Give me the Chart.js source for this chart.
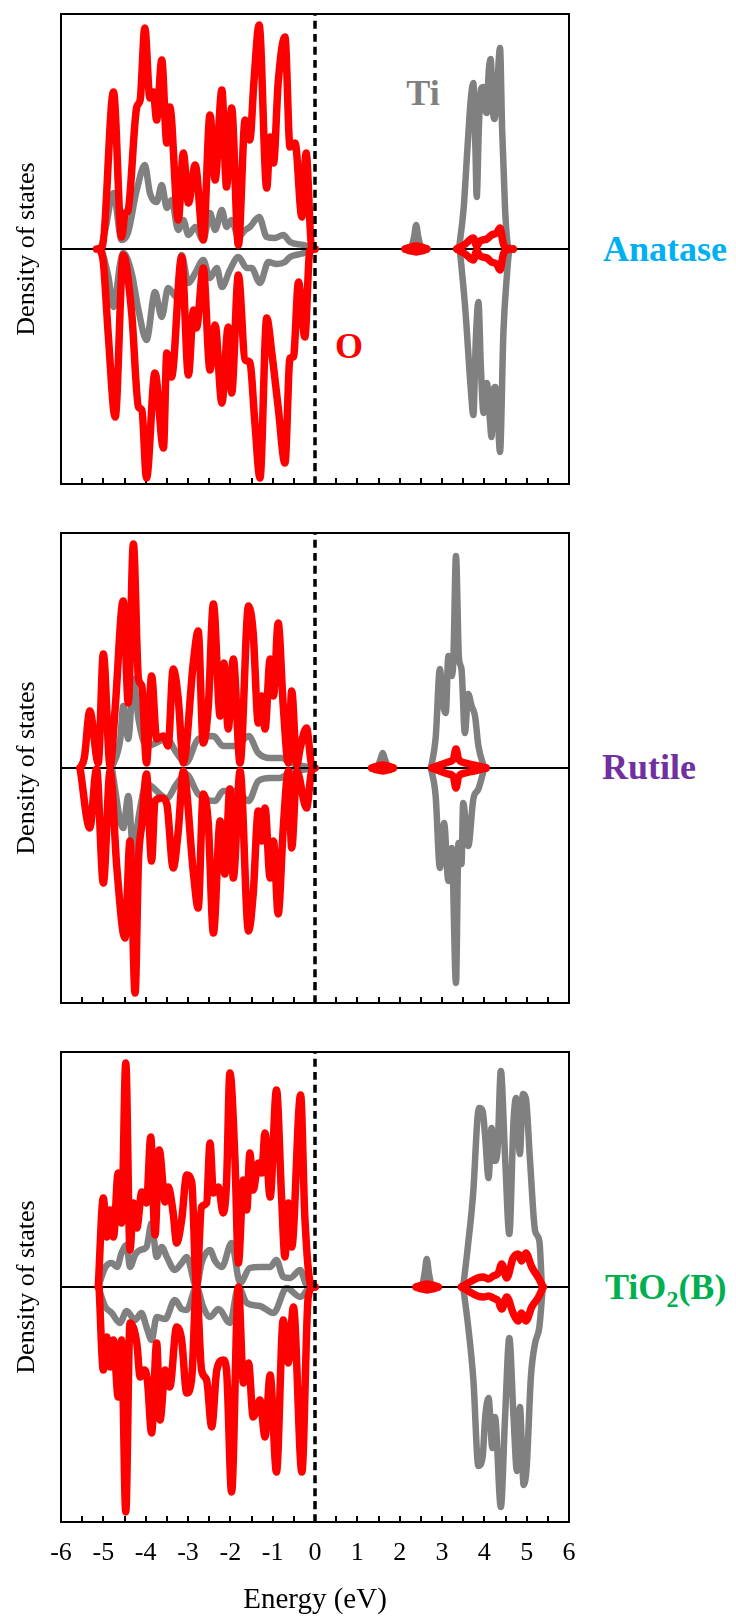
<!DOCTYPE html>
<html>
<head>
<meta charset="utf-8">
<script src="https://cdn.jsdelivr.net/npm/chart.js@4.4.0/dist/chart.umd.min.js"></script>
<style>
  body { margin: 0; background: #fff; width: 736px; height: 1620px; position: relative; overflow: hidden; font-family: "Liberation Serif", serif; }
  canvas { position: absolute; left: 0; }
  .lbl { position: absolute; font-weight: bold; font-size: 36px; line-height: 1; white-space: nowrap; }
  .sub { font-size: 24px; position: relative; top: 8px; }
</style>
</head>
<body>
<div class="lbl" style="left:423px;top:93px;color:#808080;transform:translate(-50%,-50%)">Ti</div>
<div class="lbl" style="left:349px;top:346px;color:#ff0000;transform:translate(-50%,-50%)">O</div>
<div class="lbl" style="left:603px;top:249px;color:#00b0f0;transform:translateY(-50%)">Anatase</div>
<div class="lbl" style="left:602px;top:767px;color:#7030a0;transform:translateY(-50%)">Rutile</div>
<div class="lbl" style="left:605px;top:1287px;color:#00b050;transform:translateY(-50%)">TiO<span class="sub">2</span>(B)</div>

<script>
// energy range of the x axis (eV), DOS axis is symmetric (arb. units)
const energyRange = [-6, 6];
const dosMax = 11.75;

// ---- Anatase ----
const anataseO_up = [[-5.16,0],[-5.02,0.15],[-4.76,7.85],[-4.57,0.6],[-4.48,1.8],[-4.42,1.9],[-4.21,7.1],[-4.13,7.45],[-4.02,11.05],[-3.90,7.55],[-3.82,7.85],[-3.74,6.45],[-3.62,9.45],[-3.50,5.3],[-3.43,7.1],[-3.23,1.45],[-3.11,4.8],[-2.99,2.3],[-2.83,4.2],[-2.64,0.45],[-2.48,6.7],[-2.36,3.45],[-2.20,7.95],[-2.09,3.1],[-1.97,7.05],[-1.81,0.2],[-1.65,6.45],[-1.54,5.45],[-1.44,8.45],[-1.32,11.2],[-1.14,3.05],[-1.06,5.6],[-0.98,4.3],[-0.87,8.3],[-0.71,10.6],[-0.59,5.1],[-0.47,5.3],[-0.31,1.6],[-0.21,4.8],[-0.08,0.1],[0,0]];
const anataseO_dn = [[-5.08,0],[-5.0,-0.65],[-4.88,-4.4],[-4.72,-8.4],[-4.53,-0.3],[-4.33,-3.2],[-4.17,-7.9],[-4.09,-8.05],[-3.98,-11.45],[-3.78,-6.2],[-3.58,-9.95],[-3.50,-5.2],[-3.39,-6.4],[-3.15,-0.4],[-2.99,-6.3],[-2.87,-3.05],[-2.80,-3.95],[-2.64,-0.95],[-2.48,-6.05],[-2.36,-3.8],[-2.20,-7.7],[-2.05,-3.9],[-1.97,-7.2],[-1.81,-1.3],[-1.65,-5.55],[-1.54,-5.65],[-1.42,-8.7],[-1.30,-11.45],[-1.14,-3.45],[-1.02,-5.2],[-0.87,-7.9],[-0.71,-10.7],[-0.59,-5.45],[-0.51,-5.4],[-0.39,-1.65],[-0.24,-4.4],[-0.12,-0.05],[0,0]];
const anataseTi_up = [[-5.06,0],[-4.95,1.0],[-4.76,2.8],[-4.57,0.45],[-4.42,0.8],[-4.21,2.95],[-4.02,4.2],[-3.90,2.8],[-3.74,2.35],[-3.62,3.2],[-3.50,2.05],[-3.39,2.45],[-3.23,0.95],[-3.11,1.45],[-2.99,0.7],[-2.83,1.1],[-2.64,0.45],[-2.48,1.8],[-2.36,0.95],[-2.20,1.95],[-2.09,1.1],[-1.97,1.45],[-1.81,0.6],[-1.65,0.95],[-1.54,1.1],[-1.32,1.6],[-1.14,0.6],[-0.95,0.55],[-0.75,0.7],[-0.59,0.35],[-0.28,0.2],[0,0]];
const anataseTi_dn = [[-5.04,0],[-4.88,-1.4],[-4.76,-2.9],[-4.6,-0.7],[-4.53,-0.2],[-4.33,-1.2],[-4.17,-3.05],[-3.98,-4.55],[-3.78,-2.15],[-3.62,-3.4],[-3.47,-1.95],[-3.27,-2.4],[-3.15,-0.3],[-2.99,-1.7],[-2.83,-1.2],[-2.64,-0.55],[-2.48,-1.45],[-2.32,-0.95],[-2.20,-1.9],[-2.01,-1.05],[-1.81,-0.4],[-1.61,-0.95],[-1.50,-0.95],[-1.30,-1.7],[-1.10,-0.65],[-0.91,-0.75],[-0.71,-0.65],[-0.59,-0.4],[-0.35,-0.25],[-0.04,-0.05],[0,0]];
const anataseGapTi = [[2.13,0],[2.27,0.1],[2.34,0.6],[2.39,1.2],[2.44,0.6],[2.51,0.1],[2.64,0]];
const anataseGapO_up = [[2.13,0],[2.26,0.1],[2.39,0.15],[2.52,0.1],[2.64,0]];
const anataseGapO_dn = [[2.13,0],[2.26,-0.1],[2.39,-0.15],[2.52,-0.1],[2.64,0]];
const anataseCbTi_up = [[3.40,0],[3.51,2.0],[3.60,5.0],[3.68,7.5],[3.74,8.3],[3.79,5.0],[3.82,2.6],[3.87,6.0],[3.92,8.0],[3.98,8.1],[4.02,7.0],[4.06,6.8],[4.10,8.75],[4.15,9.5],[4.20,7.0],[4.24,6.5],[4.29,7.5],[4.37,10.05],[4.42,6.0],[4.49,2.0],[4.55,0.25],[4.60,0]];
const anataseCbTi_dn = [[3.42,0],[3.55,-3.0],[3.68,-7.0],[3.74,-8.3],[3.80,-4.5],[3.86,-2.65],[3.92,-6.0],[3.98,-8.2],[4.02,-7.0],[4.06,-6.7],[4.13,-8.5],[4.17,-9.4],[4.22,-7.0],[4.26,-6.9],[4.31,-8.0],[4.37,-10.15],[4.45,-4.2],[4.53,-1.4],[4.58,-0.2],[4.62,0]];
const anataseCbO_up = [[3.35,0],[3.55,0.25],[3.74,0.55],[3.82,0.15],[3.90,0.4],[4.06,0.5],[4.17,0.7],[4.29,0.8],[4.37,1.05],[4.45,0.25],[4.53,0.05],[4.68,0]];
const anataseCbO_dn = [[3.35,0],[3.55,-0.25],[3.74,-0.55],[3.82,-0.1],[3.90,-0.35],[4.06,-0.45],[4.17,-0.65],[4.29,-0.75],[4.37,-1.05],[4.45,-0.25],[4.53,-0.05],[4.68,0]];

// ---- Rutile ----
const rutileO_up = [[-5.55,0],[-5.45,0.5],[-5.32,2.85],[-5.12,0.25],[-5.0,5.7],[-4.84,0.1],[-4.72,3.0],[-4.53,8.35],[-4.41,3.25],[-4.29,11.2],[-4.17,4.45],[-4.09,4.1],[-3.98,0.25],[-3.86,4.6],[-3.74,1.45],[-3.58,1.6],[-3.47,1.1],[-3.35,4.95],[-3.23,3.45],[-3.11,0.25],[-2.87,5.35],[-2.76,6.85],[-2.64,1.25],[-2.52,3.1],[-2.40,8.2],[-2.24,2.6],[-2.15,5.25],[-2.05,1.95],[-1.93,5.45],[-1.77,0.25],[-1.57,8.1],[-1.46,6.75],[-1.34,2.25],[-1.26,3.6],[-1.18,1.95],[-1.06,5.45],[-0.98,3.6],[-0.87,7.25],[-0.75,3.1],[-0.63,0.25],[-0.55,3.85],[-0.43,0.15],[-0.35,1.0],[-0.20,2.0],[-0.08,0.15],[0,0]];
const rutileO_dn = [[-5.55,0],[-5.32,-3.0],[-5.16,-0.05],[-5.0,-5.75],[-4.84,-0.15],[-4.68,-5.0],[-4.49,-8.5],[-4.37,-3.65],[-4.25,-11.25],[-4.17,-4.65],[-4.09,-2.8],[-3.98,-0.3],[-3.86,-4.65],[-3.78,-1.65],[-3.62,-1.5],[-3.50,-1.8],[-3.35,-5.0],[-3.23,-3.15],[-3.11,-0.15],[-2.87,-5.3],[-2.76,-7.0],[-2.64,-1.3],[-2.52,-2.8],[-2.40,-8.25],[-2.24,-2.65],[-2.13,-5.3],[-2.01,-1.05],[-1.93,-5.5],[-1.77,-0.15],[-1.57,-8.15],[-1.46,-6.3],[-1.34,-2.15],[-1.26,-3.65],[-1.18,-2.0],[-1.06,-5.5],[-0.98,-3.65],[-0.87,-7.3],[-0.75,-3.0],[-0.63,-0.15],[-0.55,-4.0],[-0.43,-0.15],[-0.20,-2.0],[-0.08,-0.15],[0,0]];
const rutileTi_up = [[-4.8,0],[-4.6,1.45],[-4.53,3.1],[-4.41,1.45],[-4.29,4.45],[-4.17,2.45],[-3.98,1.1],[-3.5,1.45],[-3.27,0.75],[-3.05,0.25],[-2.76,1.45],[-2.40,1.6],[-2.17,1.1],[-1.85,1.1],[-1.57,1.6],[-1.34,0.75],[-1.06,0.5],[-0.79,0.5],[-0.55,0.25],[-0.08,0]];
const rutileTi_dn = [[-4.8,0],[-4.53,-3.0],[-4.41,-1.4],[-4.29,-4.3],[-4.17,-2.5],[-3.98,-0.8],[-3.5,-1.5],[-3.27,-0.8],[-3.05,-0.3],[-2.76,-1.3],[-2.36,-1.65],[-2.17,-1.15],[-1.85,-1.15],[-1.57,-1.65],[-1.34,-0.65],[-1.06,-0.5],[-0.83,-0.5],[-0.59,-0.25],[-0.08,0]];
const rutileGapTi = [[1.34,0],[1.48,0.1],[1.55,0.45],[1.60,0.75],[1.65,0.45],[1.72,0.1],[1.85,0]];
const rutileGapO_up = [[1.34,0],[1.47,0.1],[1.60,0.15],[1.73,0.1],[1.85,0]];
const rutileGapO_dn = [[1.34,0],[1.47,-0.1],[1.60,-0.15],[1.73,-0.1],[1.85,0]];
const rutileCbTi_up = [[2.74,0],[2.85,1.5],[2.95,4.95],[3.03,3.1],[3.09,2.75],[3.15,5.6],[3.23,4.6],[3.27,5.5],[3.33,10.6],[3.40,5.5],[3.46,4.95],[3.54,1.75],[3.62,3.7],[3.70,3.1],[3.78,2.6],[3.86,1.1],[4.0,0]];
const rutileCbTi_dn = [[2.74,0],[2.85,-1.4],[2.95,-5.0],[3.05,-2.75],[3.15,-5.65],[3.23,-4.0],[3.33,-10.75],[3.39,-3.75],[3.46,-4.8],[3.50,-1.75],[3.62,-3.9],[3.74,-1.55],[3.86,-1.05],[4.0,0]];
const rutileCbO_up = [[2.76,0],[2.95,0.15],[3.15,0.3],[3.27,0.45],[3.33,0.95],[3.39,0.45],[3.55,0.25],[3.75,0.15],[4.04,0]];
const rutileCbO_dn = [[2.76,0],[2.95,-0.15],[3.15,-0.3],[3.27,-0.45],[3.33,-1.0],[3.39,-0.45],[3.55,-0.25],[3.75,-0.15],[4.04,0]];

// ---- TiO2(B) ----
const tio2bO_up = [[-5.12,0],[-5.0,4.45],[-4.92,2.5],[-4.84,3.85],[-4.76,2.5],[-4.65,5.7],[-4.57,3.2],[-4.47,11.2],[-4.37,1.85],[-4.29,4.2],[-4.21,2.95],[-4.09,4.75],[-3.98,4.2],[-3.88,7.5],[-3.78,2.6],[-3.68,6.85],[-3.54,4.25],[-3.47,5.0],[-3.35,3.7],[-3.27,2.2],[-3.15,3.35],[-3.03,5.6],[-2.91,5.2],[-2.80,0],[-2.68,4.0],[-2.56,4.2],[-2.48,7.2],[-2.40,4.7],[-2.28,5.0],[-2.17,3.7],[-2.09,5.2],[-2.01,10.7],[-1.89,6.35],[-1.81,1.2],[-1.69,5.35],[-1.61,3.85],[-1.54,6.7],[-1.46,4.85],[-1.34,6.2],[-1.26,5.7],[-1.18,7.7],[-1.06,4.5],[-0.91,9.85],[-0.79,4.5],[-0.71,1.5],[-0.63,4.2],[-0.55,2.0],[-0.34,9.6],[-0.24,3.5],[-0.08,0],[0,0]];
const tio2bO_dn = [[-5.10,0],[-5.0,-4.15],[-4.92,-2.5],[-4.84,-4.0],[-4.76,-2.65],[-4.65,-5.5],[-4.57,-2.65],[-4.47,-11.25],[-4.37,-1.8],[-4.21,-2.8],[-4.13,-4.5],[-4.03,-4.15],[-3.96,-4.65],[-3.86,-7.3],[-3.74,-2.8],[-3.66,-6.65],[-3.54,-4.15],[-3.43,-5.0],[-3.27,-2.0],[-3.15,-2.65],[-3.03,-5.3],[-2.91,-4.5],[-2.80,0],[-2.68,-4.15],[-2.56,-4.65],[-2.44,-7.0],[-2.32,-4.15],[-2.17,-3.65],[-2.09,-4.15],[-1.97,-10.25],[-1.81,0],[-1.69,-4.8],[-1.57,-3.8],[-1.46,-6.5],[-1.30,-5.65],[-1.18,-7.5],[-1.06,-4.4],[-0.91,-9.25],[-0.75,-1.65],[-0.63,-3.8],[-0.51,-1.0],[-0.31,-9.25],[-0.16,-0.5],[-0.04,0],[0,0]];
const tio2bTi_up = [[-5.12,0],[-4.95,1.0],[-4.80,1.2],[-4.68,1.0],[-4.57,1.7],[-4.45,2.1],[-4.37,1.0],[-4.25,1.6],[-4.13,1.85],[-3.98,2.0],[-3.86,3.2],[-3.74,1.5],[-3.62,2.0],[-3.50,1.5],[-3.31,0.85],[-3.15,1.2],[-3.03,1.5],[-2.80,0],[-2.68,1.2],[-2.48,1.85],[-2.36,1.3],[-2.20,1.0],[-1.97,2.2],[-1.77,0.2],[-1.54,0.95],[-1.30,1.0],[-1.06,1.0],[-0.91,1.35],[-0.75,0.5],[-0.59,0.45],[-0.35,0.85],[-0.20,0.1],[0,0]];
const tio2bTi_dn = [[-5.12,0],[-4.95,-1.0],[-4.80,-1.3],[-4.61,-1.8],[-4.45,-1.2],[-4.25,-1.65],[-4.10,-1.3],[-3.98,-2.0],[-3.86,-2.65],[-3.74,-1.5],[-3.54,-1.6],[-3.31,-0.65],[-3.15,-1.1],[-3.03,-1.15],[-2.80,0],[-2.64,-1.0],[-2.48,-1.5],[-2.28,-1.1],[-2.01,-1.8],[-1.81,0],[-1.61,-0.8],[-1.30,-0.95],[-0.98,-1.3],[-0.67,-0.05],[-0.35,-0.5],[-0.1,0],[0,0]];
const tio2bGapTi = [[2.39,0],[2.53,0.1],[2.59,0.7],[2.64,1.4],[2.69,0.7],[2.76,0.1],[2.91,0]];
const tio2bGapO_up = [[2.39,0],[2.52,0.1],[2.65,0.15],[2.78,0.1],[2.91,0]];
const tio2bGapO_dn = [[2.39,0],[2.52,-0.1],[2.65,-0.15],[2.78,-0.1],[2.91,0]];
const tio2bCbTi_up = [[3.50,0],[3.62,2.2],[3.74,4.8],[3.84,8.5],[3.88,8.95],[3.96,8.8],[4.02,7.5],[4.10,5.45],[4.17,7.95],[4.25,6.3],[4.31,6.8],[4.39,10.8],[4.49,6.5],[4.59,2.65],[4.69,8.3],[4.75,9.45],[4.84,6.65],[4.91,9.65],[4.98,9.45],[5.08,6.3],[5.20,2.8],[5.30,2.3],[5.36,0]];
const tio2bCbTi_dn = [[3.50,0],[3.62,-2.0],[3.74,-4.6],[3.86,-8.95],[3.96,-8.5],[4.02,-6.5],[4.10,-5.55],[4.19,-8.05],[4.25,-6.5],[4.39,-11.0],[4.49,-6.5],[4.59,-2.55],[4.69,-6.5],[4.77,-9.2],[4.84,-6.0],[4.93,-9.9],[5.0,-9.0],[5.10,-4.5],[5.20,-2.8],[5.30,-2.0],[5.38,0]];
const tio2bCbO_up = [[3.46,0],[3.70,0.3],[3.84,0.45],[3.98,0.5],[4.10,0.4],[4.21,0.55],[4.33,0.7],[4.41,1.15],[4.53,0.45],[4.68,1.45],[4.80,1.65],[4.88,1.3],[4.98,1.7],[5.12,1.0],[5.28,0.45],[5.39,0]];
const tio2bCbO_dn = [[3.46,0],[3.70,-0.3],[3.84,-0.45],[3.98,-0.5],[4.10,-0.45],[4.21,-0.55],[4.33,-0.7],[4.41,-1.1],[4.53,-0.5],[4.68,-1.3],[4.80,-1.7],[4.88,-1.3],[4.98,-1.7],[5.12,-1.0],[5.28,-0.5],[5.39,0]];

// join segments, a null point breaks the line between them
function series() {
  const out = [];
  for (let i = 0; i < arguments.length; i++) {
    const seg = arguments[i];
    if (i > 0) out.push({x: seg[0][0], y: null});
    seg.forEach(p => out.push({x: p[0], y: p[1]}));
  }
  return out;
}

const panels = [
  { top: 14, bottom: 10, labels: false,
    oUp: series(anataseO_up, anataseGapO_up, anataseCbO_up), oDn: series(anataseO_dn, anataseGapO_dn, anataseCbO_dn),
    tiUp: series(anataseTi_up, anataseGapTi, anataseCbTi_up), tiDn: series(anataseTi_dn, anataseCbTi_dn) },
  { top: 533, bottom: 10, labels: false,
    oUp: series(rutileO_up, rutileGapO_up, rutileCbO_up), oDn: series(rutileO_dn, rutileGapO_dn, rutileCbO_dn),
    tiUp: series(rutileTi_up, rutileGapTi, rutileCbTi_up), tiDn: series(rutileTi_dn, rutileCbTi_dn) },
  { top: 1052, bottom: 98, labels: true,
    oUp: series(tio2bO_up, tio2bGapO_up, tio2bCbO_up), oDn: series(tio2bO_dn, tio2bGapO_dn, tio2bCbO_dn),
    tiUp: series(tio2bTi_up, tio2bGapTi, tio2bCbTi_up), tiDn: series(tio2bTi_dn, tio2bCbTi_dn) }
];

const AREA_H = 470;
const TOP_H = 6;
const serif = 'Liberation Serif';

panels.forEach(function(p) {
  const cv = document.createElement('canvas');
  cv.width = 736;
  cv.height = TOP_H + AREA_H + p.bottom;
  cv.style.top = (p.top - TOP_H) + 'px';
  document.body.appendChild(cv);

  new Chart(cv.getContext('2d'), {
    type: 'line',
    data: {
      datasets: [
        { data: [{x: 0, y: -dosMax}, {x: 0, y: dosMax}], borderColor: '#000', borderWidth: 3.5, borderDash: [8, 5], borderCapStyle: 'butt' },
        { data: p.oUp, borderColor: '#ff0000', borderWidth: 7.5 },
        { data: p.oDn, borderColor: '#ff0000', borderWidth: 7.5 },
        { data: [{x: energyRange[0], y: 0}, {x: energyRange[1], y: 0}], borderColor: '#000', borderWidth: 2, borderCapStyle: 'butt' },
        { data: p.tiUp, borderColor: '#808080', borderWidth: 6.5 },
        { data: p.tiDn, borderColor: '#808080', borderWidth: 6.5 }
      ]
    },
    options: {
      responsive: false,
      animation: false,
      events: [],
      layout: { padding: 0 },
      elements: {
        point: { radius: 0 },
        line: { cubicInterpolationMode: 'monotone', fill: false, borderJoinStyle: 'round', borderCapStyle: 'round', spanGaps: false }
      },
      plugins: { legend: { display: false }, tooltip: { enabled: false } },
      scales: {
        x: {
          type: 'linear', position: 'bottom', min: energyRange[0], max: energyRange[1],
          ticks: {
            stepSize: 0.5, autoSkip: false, maxRotation: 0, padding: 22, color: '#000',
            font: { family: serif, size: 26 },
            callback: v => (p.labels && Number.isInteger(v)) ? String(v) : ''
          },
          grid: { drawOnChartArea: false, drawTicks: true, tickLength: -6, color: '#000', lineWidth: 2, tickWidth: 2 },
          border: { display: true, color: '#000', width: 2 },
          title: { display: p.labels, text: 'Energy (eV)', color: '#000', font: { family: serif, size: 29 }, padding: { top: 0, bottom: 2 } },
          afterFit: s => { s.height = p.bottom; }
        },
        x2: {
          type: 'linear', position: 'top', min: energyRange[0], max: energyRange[1],
          ticks: { display: false }, grid: { display: false, drawTicks: false },
          border: { display: true, color: '#000', width: 2 },
          afterFit: s => { s.height = TOP_H; }
        },
        y: {
          type: 'linear', position: 'left', min: -dosMax, max: dosMax,
          ticks: { display: false }, grid: { display: false, drawTicks: false },
          border: { display: true, color: '#000', width: 2 },
          title: { display: true, text: 'Density of states', color: '#000', font: { family: serif, size: 26 }, padding: { top: 12, bottom: 0 } },
          afterFit: s => { s.width = 61; }
        },
        y2: {
          type: 'linear', position: 'right', min: -dosMax, max: dosMax,
          ticks: { display: false }, grid: { display: false, drawTicks: false },
          border: { display: true, color: '#000', width: 2 },
          afterFit: s => { s.width = 167; }
        }
      }
    }
  });
});
</script>
</body>
</html>
